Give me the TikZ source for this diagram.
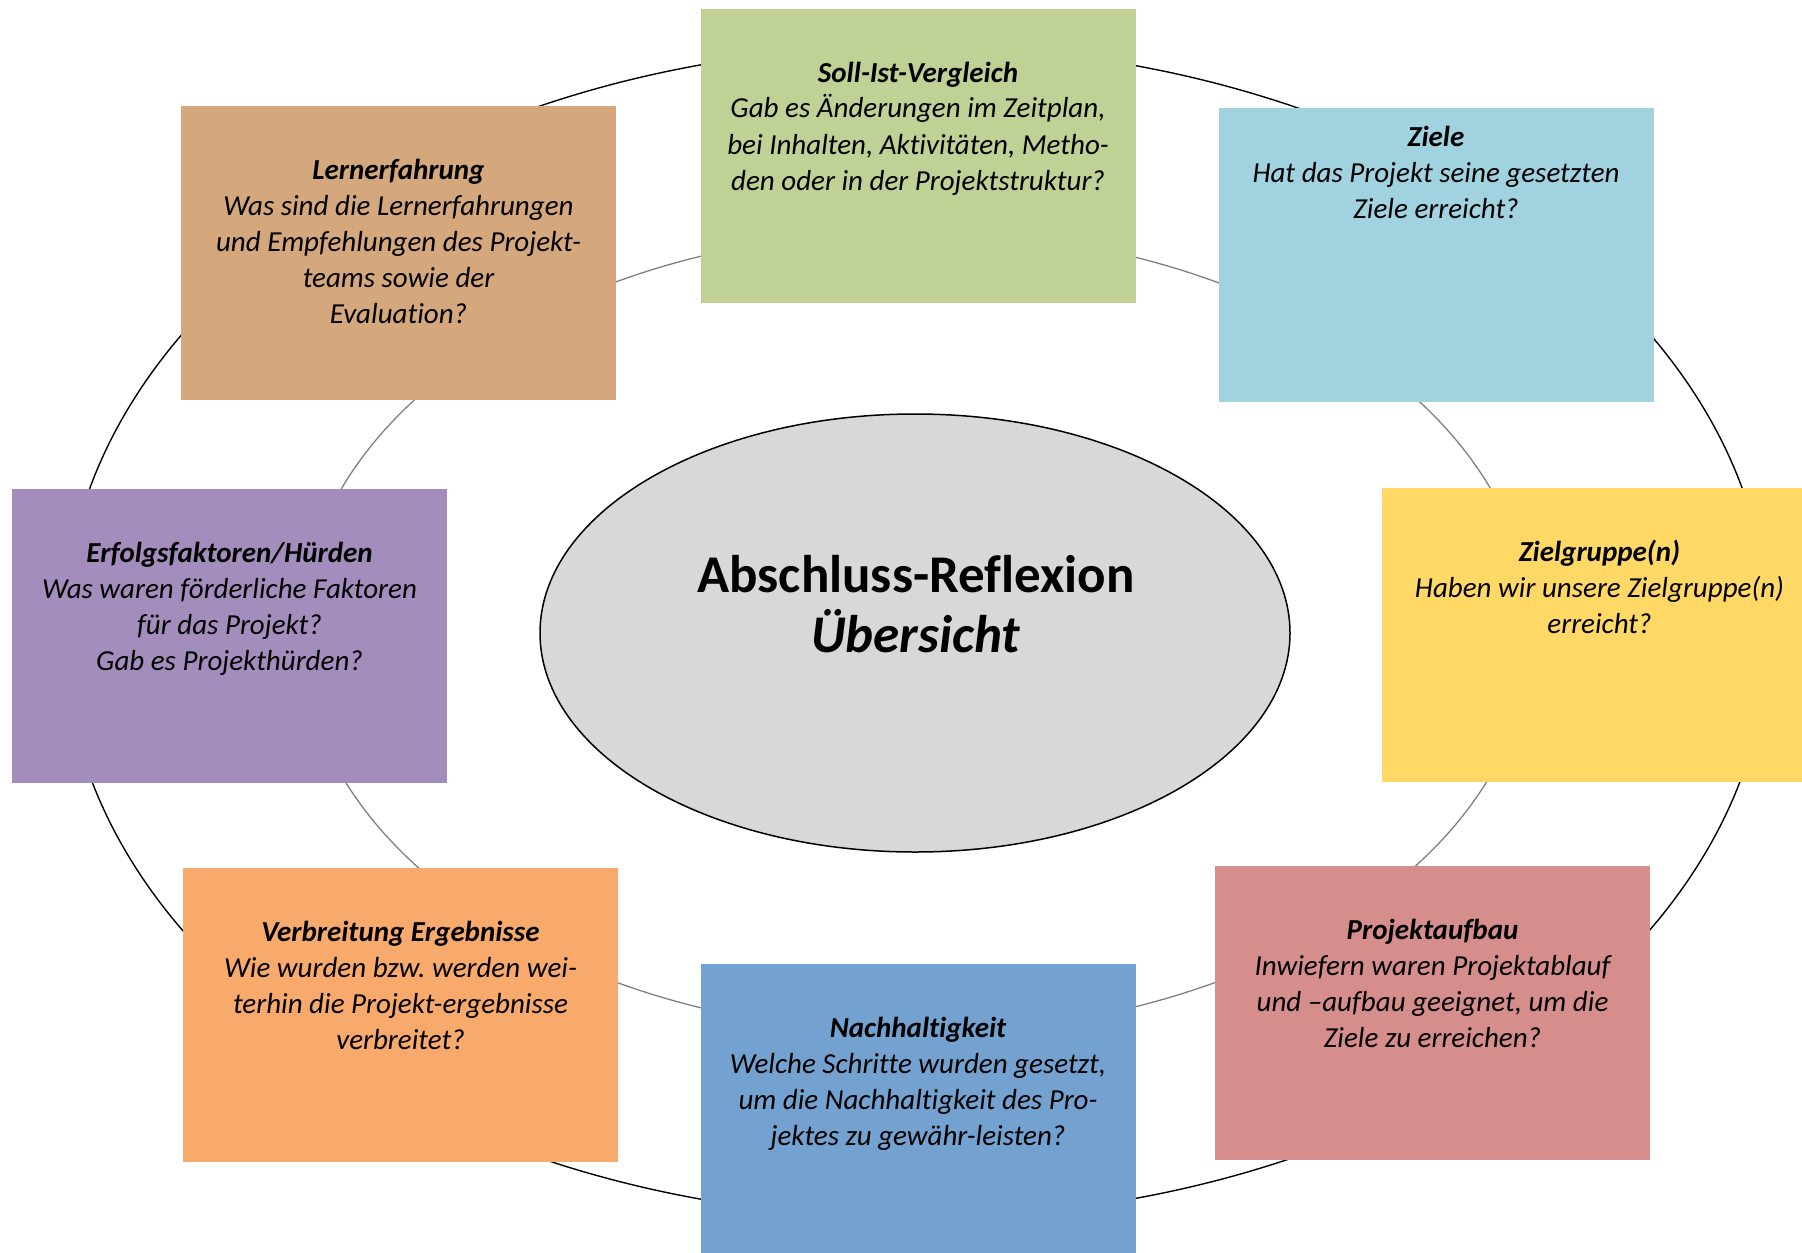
\documentclass[tikz,border=0pt]{standalone}
\usepackage{fontspec}
\setmainfont{Carlito}[Ligatures=NoCommon]
\usetikzlibrary{positioning, shapes.geometric}
\definecolor{lerncol}{RGB}{212, 168, 124}
\definecolor{sollcol}{RGB}{191, 209, 148}
\definecolor{zielcol}{RGB}{160, 210, 224}
\definecolor{grpcol}{RGB}{255, 216, 101}
\definecolor{erfcol}{RGB}{163, 141, 188}
\definecolor{verbcol}{RGB}{248, 170, 108}
\definecolor{nachcol}{RGB}{116, 162, 208}
\definecolor{aufbcol}{RGB}{214, 142, 140}
\definecolor{hubgray}{RGB}{216, 216, 216}
\definecolor{ringgray}{RGB}{128, 128, 128}
\frenchspacing

\begin{document}
\begin{tikzpicture}[
    x=0.5pt, y=-0.5pt,
    card/.style    = {rectangle, fill=#1, minimum width=217.5pt, minimum height=147pt, inner sep=0pt},
    qtext/.style   = {font=\fontsize{14.5}{18}\selectfont\itshape, align=center, inner sep=0pt},
    hub/.style     = {ellipse, draw=black, line width=0.75pt, fill=hubgray, minimum width=375pt, minimum height=219pt, inner sep=0pt},
    hubtxt/.style  = {font=\fontsize{26.5}{30}\selectfont\bfseries, align=center, inner sep=0pt, anchor=north},
    ringout/.style = {draw=black, line width=0.7pt},
    ringin/.style  = {draw=ringgray, line width=0.65pt},
  ]
    \def\cardstrut{\rule{0pt}{12pt}}
    \def\tp{24.5pt}  % card top to first text line

    \useasboundingbox (0,0) rectangle (1802,1252);

    % ── rings ──
    \draw[ringout] (916,632) ellipse [x radius=426pt, y radius=293pt];
    \draw[ringin]  (916,632) ellipse [x radius=307.5pt, y radius=200.5pt];

    % ── cards ──
    \node[card=lerncol] (lern)   at (398.5,253)  {};
    \node[card=sollcol] (soll)   at (918,156)    {};
    \node[card=zielcol] (ziele)  at (1436,255)   {};
    \node[card=erfcol]  (erfolg) at (229.5,636)  {};
    \node[card=grpcol]  (gruppe) at (1599.5,635) {};
    \node[card=verbcol] (verbr)  at (400.5,1015) {};
    \node[card=nachcol] (nachh)  at (918,1111)   {};
    \node[card=aufbcol] (aufbau) at (1432.5,1013) {};

    % ── card texts ──
    \node[qtext, below=\tp of lern.north] (lern-t)
      {\cardstrut\textbf{Lernerfahrung}\\Was sind die Lernerfahrungen\\und Empfehlungen des Projekt-\\teams sowie der\\Evaluation?};
    \node[qtext, below=\tp of soll.north] (soll-t)
      {\cardstrut\textbf{Soll-Ist-Vergleich}\\Gab es Änderungen im Zeitplan,\\bei Inhalten, Aktivitäten, Metho-\\den oder in der Projektstruktur?};
    \node[qtext, below=7pt of ziele.north] (ziele-t)
      {\cardstrut\textbf{Ziele}\\Hat das Projekt seine gesetzten\\Ziele erreicht?};
    \node[qtext, below=\tp of erfolg.north] (erfolg-t)
      {\cardstrut\textbf{Erfolgsfaktoren/Hürden}\\Was waren förderliche Faktoren\\für das Projekt?\\Gab es Projekthürden?};
    \node[qtext, below=\tp of gruppe.north] (gruppe-t)
      {\cardstrut\textbf{Zielgruppe(n)}\\Haben wir unsere Zielgruppe(n)\\erreicht?};
    \node[qtext, below=\tp of verbr.north] (verbr-t)
      {\cardstrut\textbf{Verbreitung Ergebnisse}\\Wie wurden bzw. werden wei-\\terhin die Projekt-ergebnisse\\verbreitet?};
    \node[qtext, below=\tp of nachh.north] (nachh-t)
      {\cardstrut\textbf{Nachhaltigkeit}\\Welche Schritte wurden gesetzt,\\um die Nachhaltigkeit des Pro-\\jektes zu gewähr-leisten?};
    \node[qtext, below=\tp of aufbau.north] (aufbau-t)
      {\cardstrut\textbf{Projektaufbau}\\Inwiefern waren Projektablauf\\und –aufbau geeignet, um die\\Ziele zu erreichen?};

    % ── centre ──
    \node[hub] (hub) at (915,633) {};
    \node[hubtxt] (hub-t) at (916,550) {\rule{0pt}{21pt}Abschluss-Reflexion\\\textit{Übersicht}};

  \end{tikzpicture}
\end{document}
